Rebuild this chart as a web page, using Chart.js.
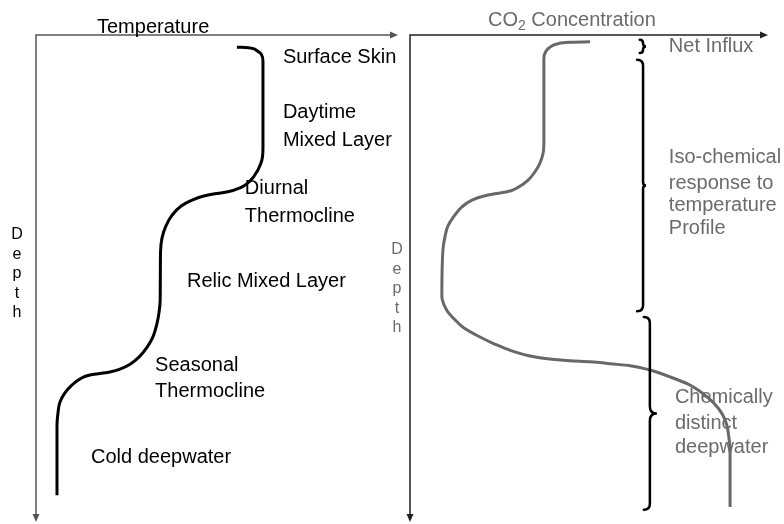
<!DOCTYPE html>
<html>
<head>
<meta charset="utf-8">
<script src="https://cdn.jsdelivr.net/npm/chart.js@4/dist/chart.umd.min.js"></script>
<style>
  body { margin: 0; background: #fff; }
  #wrap { position: relative; width: 784px; height: 524px; }
  canvas { position: absolute; top: 0; }
  #tempChart { left: 0; }
  #co2Chart { left: 384px; }
</style>
</head>
<body>
<div id="wrap">
  <canvas id="tempChart" width="400" height="524"></canvas>
  <canvas id="co2Chart" width="400" height="524"></canvas>
</div>
<script>
// profiles: value is % of the x axis, depth is % of the y axis (0 = surface)
const tempValues = [55.5, 58.6, 60.8, 62.2, 62.7, 62.7,
    62.4, 61.3, 59.1, 56.4, 53.0, 49.4, 46.1, 43.1, 40.1, 37.6, 35.9, 34.8, 34.4, 34.3,
    34.0, 33.4, 32.3, 30.7, 28.5, 26.0, 23.2, 20.4, 17.7, 14.9, 12.2, 9.9, 8.0, 6.6, 6.1, 5.8, 5.8];
const tempDepths = [2.5, 2.6, 3.1, 3.9, 5.5, 23.0,
    25.7, 27.7, 30.0, 31.4, 32.2, 32.6, 33.1, 33.9, 35.1, 37.0, 39.2, 41.7, 44.6, 54.4,
    56.9, 59.3, 62.0, 64.1, 66.1, 67.6, 68.6, 69.2, 69.5, 69.8, 70.6, 71.9, 73.5, 75.4, 77.4, 80.1, 94.5];

const co2Values = [50.3, 44.7, 41.3, 39.1, 38.0, 37.4, 37.4,
    37.2, 36.3, 34.9, 33.0, 30.4, 27.1, 23.7, 20.4, 17.3, 14.5, 12.3, 10.6, 9.8, 9.2, 8.9,
    9.5, 10.6, 12.6, 14.8, 19.0, 23.5, 28.2, 33.5, 39.7, 44.7, 50.3, 55.9, 61.5, 67.0,
    72.6, 77.7, 81.6, 84.9, 87.2, 88.5, 89.1, 89.4, 89.4];
const co2Depths = [1.4, 1.5, 1.8, 2.5, 3.3, 4.7, 21.6,
    24.2, 26.3, 28.1, 29.8, 31.2, 32.2, 32.6, 33.1, 33.9, 35.3, 37.2, 39.2, 41.3, 44.1, 53.8,
    55.4, 56.9, 58.5, 60.0, 61.8, 63.4, 64.8, 65.9, 66.6, 66.9, 67.1, 67.5, 67.9, 68.8,
    70.2, 71.7, 73.5, 75.6, 77.8, 80.1, 82.8, 85.2, 96.9];

// layer names
const tempLayers = [
    { text: 'Surface Skin', x: 68.2, y: 4.7 },
    { text: 'Daytime', x: 68.2, y: 16.0 },
    { text: 'Mixed Layer', x: 68.2, y: 21.6 },
    { text: 'Diurnal', x: 57.7, y: 31.6 },
    { text: 'Thermocline', x: 57.7, y: 37.2 },
    { text: 'Relic Mixed Layer', x: 41.7, y: 50.7 },
    { text: 'Seasonal', x: 32.9, y: 67.8 },
    { text: 'Thermocline', x: 32.9, y: 73.1 },
    { text: 'Cold deepwater', x: 15.2, y: 86.7 },
];
const co2Layers = [
    { text: 'Net Influx', x: 72.3, y: 2.3 },
    { text: 'Iso-chemical', x: 72.3, y: 25.1 },
    { text: 'response to', x: 72.3, y: 30.4 },
    { text: 'temperature', x: 72.3, y: 35.1 },
    { text: 'Profile', x: 72.3, y: 39.8 },
    { text: 'Chemically', x: 74.0, y: 74.5 },
    { text: 'distinct', x: 74.0, y: 79.7 },
    { text: 'deepwater', x: 74.0, y: 84.6 },
];
// depth ranges grouped by braces
const co2Braces = [
    { x: 65.1, from: 1.0, to: 3.7, tip: 3 },
    { x: 65.1, from: 5.1, to: 56.7, tip: 3 },
    { x: 67.0, from: 57.9, to: 97.5, tip: 7 },
];

const FONT = '"Liberation Sans", Arial, sans-serif';

function toPoints(xs, ys) {
    return xs.map((v, i) => ({ x: v, y: ys[i] }));
}

function drawBrace(ctx, x, y1, y2, w, tip) {
    const ym = (y1 + y2) / 2;
    ctx.beginPath();
    ctx.moveTo(x - w, y1);
    ctx.quadraticCurveTo(x, y1, x, y1 + w);
    ctx.lineTo(x, ym - tip);
    ctx.quadraticCurveTo(x, ym, x + tip, ym);
    ctx.quadraticCurveTo(x, ym, x, ym + tip);
    ctx.lineTo(x, y2 - w);
    ctx.quadraticCurveTo(x, y2, x - w, y2);
    ctx.stroke();
}

// axes with arrows, titles, "Depth", layer labels and braces
const sketch = {
    id: 'sketch',
    afterDraw(chart, args, opts) {
        const { ctx, chartArea: a, scales } = chart;
        ctx.save();
        // axes
        ctx.strokeStyle = opts.axisColor;
        ctx.fillStyle = opts.axisColor;
        ctx.lineWidth = 1.5;
        ctx.beginPath();
        ctx.moveTo(a.left, a.bottom - 6);
        ctx.lineTo(a.left, a.top);
        ctx.lineTo(a.right - 6, a.top);
        ctx.stroke();
        ctx.beginPath();
        ctx.moveTo(a.right, a.top);
        ctx.lineTo(a.right - 8, a.top - 3.5);
        ctx.lineTo(a.right - 8, a.top + 3.5);
        ctx.fill();
        ctx.beginPath();
        ctx.moveTo(a.left, a.bottom);
        ctx.lineTo(a.left - 3.5, a.bottom - 8);
        ctx.lineTo(a.left + 3.5, a.bottom - 8);
        ctx.fill();

        // title
        ctx.fillStyle = opts.textColor;
        ctx.textBaseline = 'middle';
        ctx.textAlign = 'left';
        let tx = opts.titleX;
        opts.title.forEach(part => {
            ctx.font = (part.sub ? '14px ' : '20px ') + FONT;
            ctx.fillText(part.text, tx, opts.titleY + (part.sub ? 6 : 0));
            tx += ctx.measureText(part.text).width;
        });

        // Depth, one letter per row
        ctx.font = '16px ' + FONT;
        ctx.textAlign = 'center';
        ctx.textBaseline = 'alphabetic';
        'Depth'.split('').forEach((ch, i) => {
            ctx.fillText(ch, opts.depthX, opts.depthY + i * 19.6);
        });

        // layer labels
        ctx.font = '20px ' + FONT;
        ctx.textAlign = 'left';
        ctx.textBaseline = 'middle';
        opts.labels.forEach(l => {
            ctx.fillText(l.text, scales.x.getPixelForValue(l.x), scales.y.getPixelForValue(l.y));
        });

        // braces
        ctx.strokeStyle = '#000';
        ctx.lineWidth = 2.5;
        ctx.lineCap = 'round';
        opts.braces.forEach(b => {
            const y1 = scales.y.getPixelForValue(b.from);
            const y2 = scales.y.getPixelForValue(b.to);
            drawBrace(ctx, scales.x.getPixelForValue(b.x), y1, y2, Math.min(6, (y2 - y1) / 4), b.tip);
        });
        ctx.restore();
    }
};

function makeConfig(points, lineColor, padding, sketchOpts) {
    return {
        type: 'scatter',
        data: {
            datasets: [{
                data: points,
                showLine: true,
                borderColor: lineColor,
                borderWidth: 3,
                pointRadius: 0,
                cubicInterpolationMode: 'monotone',
            }]
        },
        options: {
            indexAxis: 'y', // depth drives the curve
            responsive: false,
            animation: false,
            layout: { padding },
            plugins: {
                legend: { display: false },
                tooltip: { enabled: false },
                sketch: sketchOpts,
            },
            scales: {
                x: { type: 'linear', min: 0, max: 100, display: false },
                y: { type: 'linear', min: 0, max: 100, reverse: true, display: false },
            }
        },
        plugins: [sketch]
    };
}

new Chart(document.getElementById('tempChart'), makeConfig(
    toPoints(tempValues, tempDepths), '#000',
    { left: 36, top: 35, right: 2, bottom: 2 },
    {
        axisColor: '#555', textColor: '#000',
        title: [{ text: 'Temperature' }], titleX: 97, titleY: 27,
        depthX: 17, depthY: 239,
        labels: tempLayers, braces: [],
    }
));

new Chart(document.getElementById('co2Chart'), makeConfig(
    toPoints(co2Values, co2Depths), '#686868',
    { left: 26, top: 35, right: 16, bottom: 2 },
    {
        axisColor: '#222', textColor: '#6b6b6b',
        title: [{ text: 'CO' }, { text: '2', sub: true }, { text: ' Concentration' }], titleX: 104, titleY: 20,
        depthX: 13, depthY: 254,
        labels: co2Layers, braces: co2Braces,
    }
));
</script>
</body>
</html>
